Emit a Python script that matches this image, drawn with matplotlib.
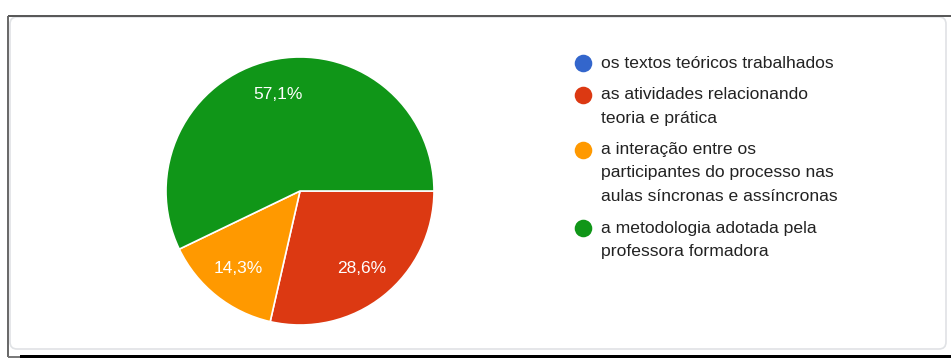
import matplotlib.pyplot as plt
from matplotlib.patches import FancyBboxPatch

plt.rcParams['font.family'] = ['Liberation Sans', 'DejaVu Sans']

# respostas (contagem por opção)
labels = ["os textos teóricos trabalhados",
          "as atividades relacionando\nteoria e prática",
          "a interação entre os\nparticipantes do processo nas\naulas síncronas e assíncronas",
          "a metodologia adotada pela\nprofessora formadora"]
counts = [0, 2, 1, 4]
colors = ["#3366CC", "#DC3912", "#FF9900", "#109618"]

W, H = 951, 358
fig = plt.figure(figsize=(W / 100, H / 100), dpi=100)

# fundo em coordenadas de pixel (moldura + legenda)
bg = fig.add_axes([0, 0, 1, 1])
bg.set_xlim(0, W)
bg.set_ylim(H, 0)
bg.axis('off')

card = FancyBboxPatch((10, 17), 936, 332, boxstyle="round,pad=0,rounding_size=7",
                      facecolor='white', edgecolor='#e0e2e5', linewidth=1.2)
bg.add_patch(card)
bg.plot([8, W], [16, 16], color='#555555', lw=1.4, solid_capstyle='butt')
bg.plot([8, 8], [16, 357], color='#666666', lw=1.4, solid_capstyle='butt')
bg.plot([8, 20], [357, 357], color='#777777', lw=1.4, solid_capstyle='butt')
bg.fill_between([20, W], 354.5, H, color='black', lw=0)

# pizza
r = 134
cx, cy = 300, 191
ax = fig.add_axes([(cx - r) / W, (H - cy - r) / H, 2 * r / W, 2 * r / H])


def fmt(p):
    if p < 0.5:
        return ''
    return ('%.1f%%' % p).replace('.', ',')


wedges, texts, autotexts = ax.pie(counts, colors=colors, startangle=0, counterclock=False,
                                  autopct=fmt, pctdistance=0.74,
                                  wedgeprops=dict(edgecolor='white', linewidth=1.2),
                                  textprops=dict(color='white', fontsize=12.5))
ax.set_xlim(-1, 1)
ax.set_ylim(-1, 1)
ax.set_aspect('equal')
ax.axis('off')

# legenda
y = 63
for lab, col in zip(labels, colors):
    bg.scatter([583], [y], s=160, color=col, zorder=3, linewidths=0)
    for line in lab.split('\n'):
        bg.text(601, y, line, fontsize=12.6, color='#222222', va='center', ha='left')
        y += 23.5
    y += 8

fig.savefig('out.png', dpi=100)
